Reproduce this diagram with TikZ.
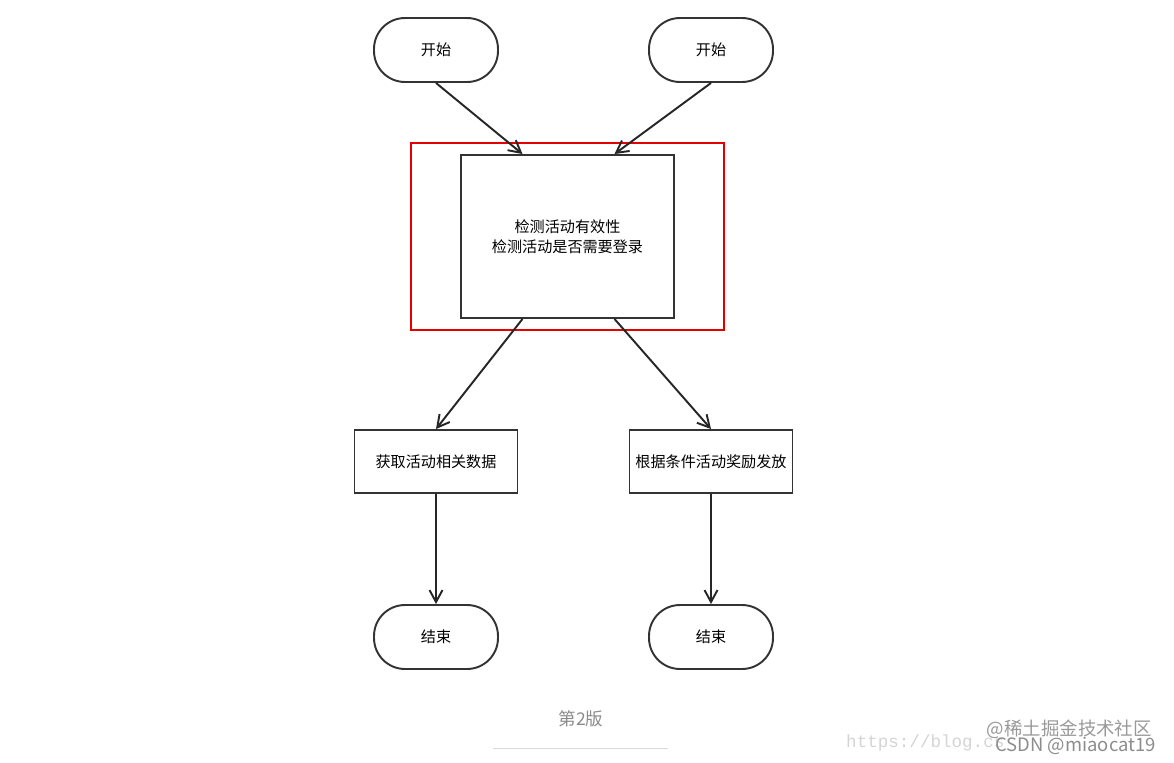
\documentclass[tikz,border=0pt]{standalone}
\usepackage{fontspec}
\setmainfont{Noto Sans CJK SC}
\setmonofont{Liberation Mono}
\usetikzlibrary{arrows.meta, positioning}
\definecolor{linegray}{HTML}{333333}
\definecolor{capgray}{HTML}{8A8A8A}
\definecolor{wmgray}{HTML}{D4D4D4}

\begin{document}
\begin{tikzpicture}[
    x=0.02cm, y=-0.02cm,
    terminal/.style={draw=linegray, line width=1.1pt, rounded corners=0.62cm,
                     minimum width=2.48cm, minimum height=1.28cm,
                     font=\fontsize{8.6}{11}\selectfont},
    proc/.style={draw=linegray, line width=1.1pt, minimum width=3.26cm,
                 minimum height=1.26cm, inner xsep=2pt,
                 font=\fontsize{8.6}{11}\selectfont},
    arr/.style={-{Straight Barb[length=2.4mm, width=2.6mm]}, line width=1.1pt,
                draw=black!85},
    >=Stealth
  ]
  \useasboundingbox (0,0) rectangle (1174,762);

  % start
  \node[terminal] (s1) at (436,50) {开始};
  \node[terminal] (s2) at (711,50) {开始};

  % check box and red frame
  \node[draw=red!90!black, line width=1.1pt, minimum width=6.26cm,
        minimum height=3.74cm] (redfrm) at (567.5,236.5) {};
  \node[draw=linegray, line width=1.1pt, minimum width=4.26cm,
        minimum height=3.26cm, align=center,
        font=\fontsize{8.6}{11.5}\selectfont] (chk) at (567.5,236.5)
        {检测活动有效性\\检测活动是否需要登录};

  % two branches
  \node[proc] (get) at (436,461.5) {获取活动相关数据};
  \node[proc] (award) at (711,461.5) {根据条件活动奖励发放};

  % end
  \node[terminal] (e1) at (436,637) {结束};
  \node[terminal] (e2) at (711,637) {结束};

  \draw[arr] (s1.south) -- ([xshift=-0.9cm]chk.north);
  \draw[arr] (s2.south) -- ([xshift=0.94cm]chk.north);
  \draw[arr] ([xshift=-0.9cm]chk.south) -- (get.north);
  \draw[arr] ([xshift=0.94cm]chk.south) -- (award.north);
  \draw[arr] (get.south) -- (e1.north);
  \draw[arr] (award.south) -- (e2.north);

  % caption
  \node[text=capgray, font=\fontsize{10}{12}\selectfont] (cap) at (581,719) {第2版};
  \coordinate (capL) at (493,748);
  \coordinate (capR) at (668,748);
  \draw[black!15, line width=0.5pt] (capL) -- (capR);

  % watermark
  \node[text=wmgray, font=\ttfamily\fontsize{10}{11}\selectfont, anchor=west]
    (url) at (840,743) {https://blog.cs};
  \node[text=black!40, font=\fontsize{10.5}{11}\selectfont, anchor=east]
    (wm1) at (1158,729) {@稀土掘金技术社区};
  \node[text=black!45, font=\fontsize{10.5}{11}\selectfont, anchor=east]
    (wm2) at (1162,746) {CSDN @miaocat19};
\end{tikzpicture}
\end{document}
